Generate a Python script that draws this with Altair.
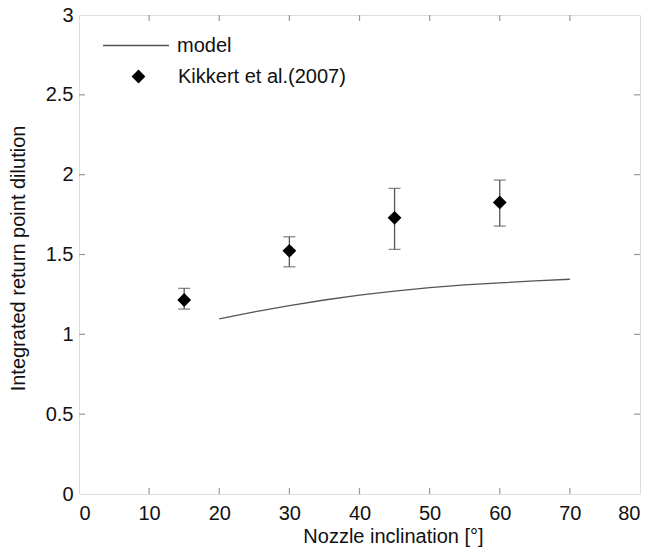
import altair as alt
import pandas as pd

# model curve
model_x = [20, 25, 30, 35, 40, 45, 50, 55, 60, 65, 70]
model_y = [1.097, 1.14, 1.18, 1.215, 1.245, 1.27, 1.293, 1.31, 1.322, 1.335, 1.345]

# Kikkert et al. (2007) observations
obs_x = [15, 30, 45, 60]
obs_y = [1.215, 1.523, 1.730, 1.826]
obs_lo = [1.158, 1.423, 1.532, 1.678]
obs_hi = [1.288, 1.611, 1.914, 1.966]

x_ticks = [10, 20, 30, 40, 50, 60, 70]
y_ticks = [0.5, 1, 1.5, 2, 2.5]

W, H = 561, 479
FONT = "Liberation Sans"
FRAME = "#999999"
FS = 20

model_df = pd.DataFrame({"x": model_x, "y": model_y, "series": ["model"] * len(model_x)})
obs_df = pd.DataFrame({"x": obs_x, "y": obs_y, "lo": obs_lo, "hi": obs_hi,
                       "series": ["Kikkert et al.(2007)"] * len(obs_x)})
xt_df = pd.DataFrame({"t": x_ticks})
yt_df = pd.DataFrame({"t": y_ticks})

xscale = alt.Scale(domain=[0, 80], nice=False, zero=False)
yscale = alt.Scale(domain=[0, 3], nice=False, zero=False)

xaxis = alt.Axis(values=list(range(0, 81, 10)), domain=False, ticks=False, grid=False,
                 labelFontSize=FS, labelFont=FONT, labelColor="#111", labelPadding=9,
                 title="Nozzle inclination [°]", titleFont=FONT, titleFontSize=FS,
                 titleFontWeight="normal", titleColor="#111",
                 titleX=314, titleY=48, titleBaseline="alphabetic", titleAlign="center")
yaxis = alt.Axis(values=[0, 0.5, 1, 1.5, 2, 2.5, 3], format="~g", domain=False, ticks=False,
                 grid=False, labelFontSize=FS, labelFont=FONT, labelColor="#111", labelPadding=6,
                 title="Integrated return point dilution", titleFont=FONT, titleFontSize=FS,
                 titleFontWeight="normal", titleColor="#111",
                 titleX=-61, titleY=243, titleAngle=270, titleAlign="center",
                 titleBaseline="middle")

line = alt.Chart(model_df).mark_line(strokeWidth=1.3).encode(
    x=alt.X("x:Q", scale=xscale, axis=xaxis),
    y=alt.Y("y:Q", scale=yscale, axis=yaxis),
    color=alt.Color("series:N", scale=alt.Scale(domain=["model"], range=["#555555"]),
                    legend=alt.Legend(title=None, orient="none", legendX=23, legendY=-3.5,
                                      symbolType="stroke", symbolSize=4356,
                                      symbolStrokeWidth=1.3, labelOffset=7, padding=0,
                                      labelLimit=400,
                                      labelFont=FONT, labelFontSize=FS, labelColor="#111")),
)

err = alt.Chart(obs_df).mark_rule(color="#555555", strokeWidth=1.3).encode(
    x="x:Q", y="lo:Q", y2="hi:Q")
cap_lo = alt.Chart(obs_df).mark_tick(color="#555555", orient="horizontal", size=12,
                                     thickness=1.3).encode(x="x:Q", y="lo:Q")
cap_hi = alt.Chart(obs_df).mark_tick(color="#555555", orient="horizontal", size=12,
                                     thickness=1.3).encode(x="x:Q", y="hi:Q")

pts = alt.Chart(obs_df).mark_point(filled=True, color="black", opacity=1, size=190).encode(
    x="x:Q", y="y:Q",
    shape=alt.Shape("series:N", scale=alt.Scale(domain=["Kikkert et al.(2007)"], range=["diamond"]),
                    legend=alt.Legend(title=None, orient="none", legendX=49.5, legendY=51.5,
                                      symbolSize=190, symbolFillColor="black",
                                      symbolStrokeWidth=0, labelOffset=29.5, padding=0,
                                      labelLimit=400,
                                      labelFont=FONT, labelFontSize=FS, labelColor="#111")),
)

tick_style = dict(color=FRAME, strokeWidth=1.2)
tb = alt.Chart(xt_df).mark_rule(**tick_style).encode(x="t:Q", y=alt.value(H), y2=alt.value(H - 6))
tt = alt.Chart(xt_df).mark_rule(**tick_style).encode(x="t:Q", y=alt.value(0), y2=alt.value(6))
tl = alt.Chart(yt_df).mark_rule(**tick_style).encode(y="t:Q", x=alt.value(0), x2=alt.value(6))
tr = alt.Chart(yt_df).mark_rule(**tick_style).encode(y="t:Q", x=alt.value(W), x2=alt.value(W - 6))

chart = alt.layer(tb, tt, tl, tr, line, err, cap_lo, cap_hi, pts).resolve_scale(
    color="independent", shape="independent"
).properties(
    width=W, height=H,
    autosize=alt.AutoSizeParams(type="none"),
    padding={"left": 79, "top": 15, "right": 10, "bottom": 60},
).configure_view(stroke=FRAME, strokeWidth=1.5).configure(background="white")

chart.save("out.html", embed_options={"renderer": "svg", "actions": False})
